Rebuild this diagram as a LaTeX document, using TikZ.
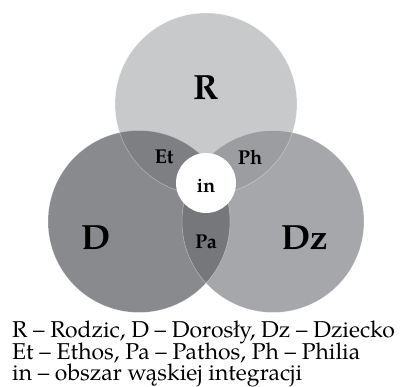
\documentclass[tikz,border=0pt]{standalone}
\usepackage{fontspec}
\setmainfont{texgyrepagella}[Extension=.otf, UprightFont=*-regular, BoldFont=*-bold, ItalicFont=*-italic, BoldItalicFont=*-bolditalic]
\definecolor{cR}{HTML}{C8C9CB}
\definecolor{cD}{HTML}{898A8D}
\definecolor{cZ}{HTML}{A6A7AA}
\definecolor{cEt}{HTML}{7E7F82}
\definecolor{cPh}{HTML}{9C9DA0}
\definecolor{cPa}{HTML}{76777A}
\tikzset{
  edge/.style={draw=white, draw opacity=0.4, line width=0.5pt},
  big/.style={font=\fontsize{35}{40}\selectfont\bfseries, inner sep=0pt},
  small/.style={font=\fontsize{20}{24}\selectfont\bfseries, inner sep=0pt},
  legend/.style={font=\fontsize{22.9}{26}\selectfont, inner sep=0pt, anchor=base west}
}
\begin{document}
\begin{tikzpicture}[x=1pt,y=-1pt]
\useasboundingbox (0,0) rectangle (400,387);
\coordinate (cr) at (206,104);
\coordinate (cd) at (139,221.5);
\coordinate (cz) at (273,221.5);
\coordinate (cin) at (206,183);
\fill[cR] (cr) circle[radius=91];
\fill[cD] (cd) circle[radius=91];
\fill[cZ] (cz) circle[radius=91];
\begin{scope}
  \clip (cr) circle[radius=91];
  \fill[cEt] (cd) circle[radius=91];
  \fill[cPh] (cz) circle[radius=91];
\end{scope}
\begin{scope}
  \clip (cd) circle[radius=91];
  \fill[cPa] (cz) circle[radius=91];
\end{scope}
\draw[edge] (cr) circle[radius=91];
\draw[edge] (cd) circle[radius=91];
\draw[edge] (cz) circle[radius=91];
\fill[white] (cin) circle[radius=30];
\node[big] (R) at (206,88) {R};
\node[big] (D) at (96,237.5) {D};
\node[big] (Dz) at (305,237.5) {Dz};
\node[small] (Et) at (164,157) {Et};
\node[small] (Ph) at (250,157) {Ph};
\node[small] (in) at (206,186) {in};
\node[small] (Pa) at (206,241.5) {Pa};
\node[legend] (l1) at (12,337.5) {R – Rodzic, D – Dorosły, Dz – Dziecko};
\node[legend] (l2) at (12,359.5) {Et – Ethos, Pa – Pathos, Ph – Philia};
\node[legend] (l3) at (12,381) {in – obszar wąskiej integracji};
\end{tikzpicture}
\end{document}
